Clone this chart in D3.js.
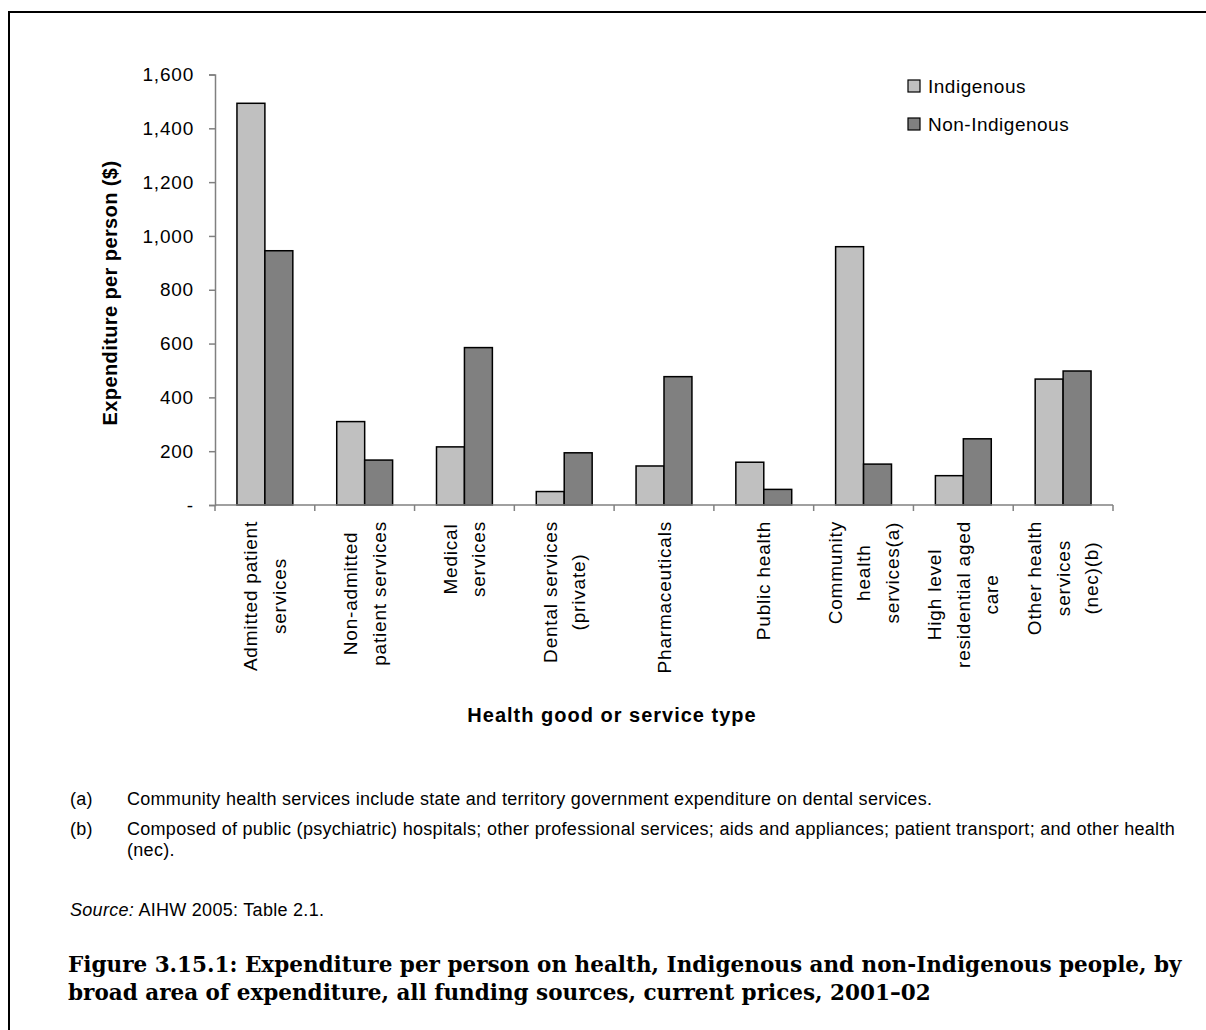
<!DOCTYPE html>
<html>
<head>
<meta charset="utf-8">
<script src="https://cdn.jsdelivr.net/npm/d3@7"></script>
<style>
  html, body { margin: 0; padding: 0; background: #fff; }
  svg { display: block; }
  text { font-family: "Liberation Sans", Arial, sans-serif; fill: #000; }
</style>
</head>
<body>
<svg id="chart" width="1206" height="1030"></svg>
<script>
// ---- data ----
const categories = [
  ["Admitted patient", "services"],
  ["Non-admitted", "patient services"],
  ["Medical", "services"],
  ["Dental services", "(private)"],
  ["Pharmaceuticals"],
  ["Public health"],
  ["Community", "health", "services(a)"],
  ["High level", "residential aged", "care"],
  ["Other health", "services", "(nec)(b)"]
];
const seriesNames = ["Indigenous", "Non-Indigenous"];
const indigenous    = [1493, 310, 216, 50, 145, 159, 960, 109, 468];
const nonIndigenous = [945, 167, 585, 194, 477, 58, 152, 246, 498];
const yTicks = [0, 200, 400, 600, 800, 1000, 1200, 1400, 1600];
const footnotes = [
  ["(a)", ["Community health services include state and territory government expenditure on dental services."]],
  ["(b)", ["Composed of public (psychiatric) hospitals; other professional services; aids and appliances; patient transport; and other health", "(nec)."]]
];
const titleLines = [
  "Figure 3.15.1: Expenditure per person on health, Indigenous and non-Indigenous people, by",
  "broad area of expenditure, all funding sources, current prices, 2001\u201302"
];

// ---- layout ----
const svg = d3.select("#chart");
const plotL = 215, plotR = 1113, plotT = 74.5, plotB = 505;
const colors = ["#c0c0c0", "#808080"];
const values = [indigenous, nonIndigenous];
const idx = d3.range(categories.length);
const axisLS = "0.8px";

// frame
svg.append("path")
  .attr("d", "M9,1030 L9,12 L1206,12")
  .attr("fill", "none").attr("stroke", "#000").attr("stroke-width", 2);

const x0 = d3.scaleBand().domain(idx).range([plotL, plotR]).paddingInner(0.44).paddingOuter(0.22);
const x1 = d3.scaleBand().domain([0, 1]).range([0, x0.bandwidth()]);
const y = d3.scaleLinear().domain([0, 1600]).range([plotB, plotT]);

// bars
const g = svg.append("g");
idx.forEach(i => {
  [0, 1].forEach(s => {
    g.append("rect")
      .attr("x", x0(i) + x1(s))
      .attr("y", y(values[s][i]))
      .attr("width", x1.bandwidth())
      .attr("height", y(0) - y(values[s][i]))
      .attr("fill", colors[s])
      .attr("stroke", "#000")
      .attr("stroke-width", 1.5);
  });
});

// y axis
const yAxis = d3.axisLeft(y).tickValues(yTicks)
  .tickFormat(d => d === 0 ? "-" : d3.format(",")(d))
  .tickSize(6).tickPadding(15);
const ya = svg.append("g").attr("transform", `translate(${plotL},0)`).call(yAxis);
ya.select(".domain").attr("stroke", "#808080").attr("stroke-width", 1.5);
ya.selectAll(".tick line").attr("stroke", "#808080").attr("stroke-width", 1.5);
ya.selectAll(".tick text")
  .style("font-family", "'Liberation Sans', Arial, sans-serif")
  .style("font-size", "19px").style("letter-spacing", axisLS).attr("fill", "#000");

// x axis line and ticks at category boundaries
const bounds = idx.map(i => plotL + i * x0.step()).concat([plotR]);
svg.append("line").attr("x1", plotL).attr("x2", plotR).attr("y1", plotB).attr("y2", plotB)
  .attr("stroke", "#808080").attr("stroke-width", 1.5);
svg.selectAll(".xtick").data(bounds).enter().append("line")
  .attr("x1", d => d).attr("x2", d => d).attr("y1", plotB).attr("y2", plotB + 6)
  .attr("stroke", "#808080").attr("stroke-width", 1.5);

// x category labels (rotated)
const labelTop = 521, lineGap = 28.5;
idx.forEach(i => {
  const cx = x0(i) + x0.bandwidth() / 2;
  const lines = categories[i];
  const lg = svg.append("g").attr("transform", `translate(${cx},${labelTop}) rotate(-90)`);
  const texts = lines.map((t, k) => lg.append("text")
    .attr("y", (k - (lines.length - 1) / 2) * lineGap)
    .attr("dy", "0.35em")
    .attr("text-anchor", "middle")
    .style("font-size", "19px").style("letter-spacing", axisLS)
    .text(t));
  const maxLen = d3.max(texts, t => t.node().getComputedTextLength());
  texts.forEach(t => t.attr("x", -maxLen / 2));
});

// axis titles
svg.append("text")
  .attr("transform", `translate(117,293) rotate(-90)`)
  .attr("text-anchor", "middle")
  .style("font-size", "20px").style("font-weight", "bold").style("letter-spacing", "0.4px")
  .text("Expenditure per person ($)");
svg.append("text")
  .attr("x", 612).attr("y", 722)
  .attr("text-anchor", "middle")
  .style("font-size", "20px").style("font-weight", "bold")
  .style("letter-spacing", "1px")
  .text("Health good or service type");

// legend
const legend = svg.append("g");
seriesNames.forEach((n, s) => {
  const ly = 86 + s * 38;
  legend.append("rect").attr("x", 908).attr("y", ly - 6).attr("width", 12).attr("height", 12)
    .attr("fill", colors[s]).attr("stroke", "#000").attr("stroke-width", 1.2);
  legend.append("text").attr("x", 928).attr("y", ly).attr("dy", "0.35em")
    .style("font-size", "19px").style("letter-spacing", "0.5px").text(n);
});

// footnotes (letter spacing fitted so the long line spans the text column)
const noteX = 70, noteTextX = 127, noteRight = 1175;
const fnSize = 18;
const probe = svg.append("text").style("font-size", fnSize + "px").text(footnotes[1][1][0]);
const probeW = probe.node().getComputedTextLength();
const fnLS = Math.max(0, (noteRight - noteTextX - probeW) / footnotes[1][1][0].length);
probe.remove();
let fy = 805;
footnotes.forEach(([tag, lines]) => {
  svg.append("text").attr("x", noteX).attr("y", fy).style("font-size", fnSize + "px").style("letter-spacing", fnLS + "px").text(tag);
  lines.forEach((l, k) => {
    svg.append("text").attr("x", noteTextX).attr("y", fy + k * 21).style("font-size", fnSize + "px").style("letter-spacing", fnLS + "px").text(l);
  });
  fy += 30;
});
const src = svg.append("text").attr("x", noteX).attr("y", 916).style("font-size", fnSize + "px").style("letter-spacing", fnLS + "px");
src.append("tspan").style("font-style", "italic").text("Source:");
src.append("tspan").text(" AIHW 2005: Table 2.1.");

// title (font size fitted to the column width)
const titleX = 68, titleRight = 1182;
const tProbe = svg.append("text")
  .style("font-family", "'DejaVu Serif', serif").style("font-weight", "bold").style("font-size", "20px")
  .text(titleLines[0]);
const tSize = 20 * (titleRight - titleX) / tProbe.node().getComputedTextLength();
tProbe.remove();
titleLines.forEach((t, k) => {
  svg.append("text").attr("x", titleX).attr("y", 972 + k * 28)
    .style("font-family", "'DejaVu Serif', serif")
    .style("font-weight", "bold").style("font-size", tSize + "px")
    .text(t);
});
</script>
</body>
</html>
